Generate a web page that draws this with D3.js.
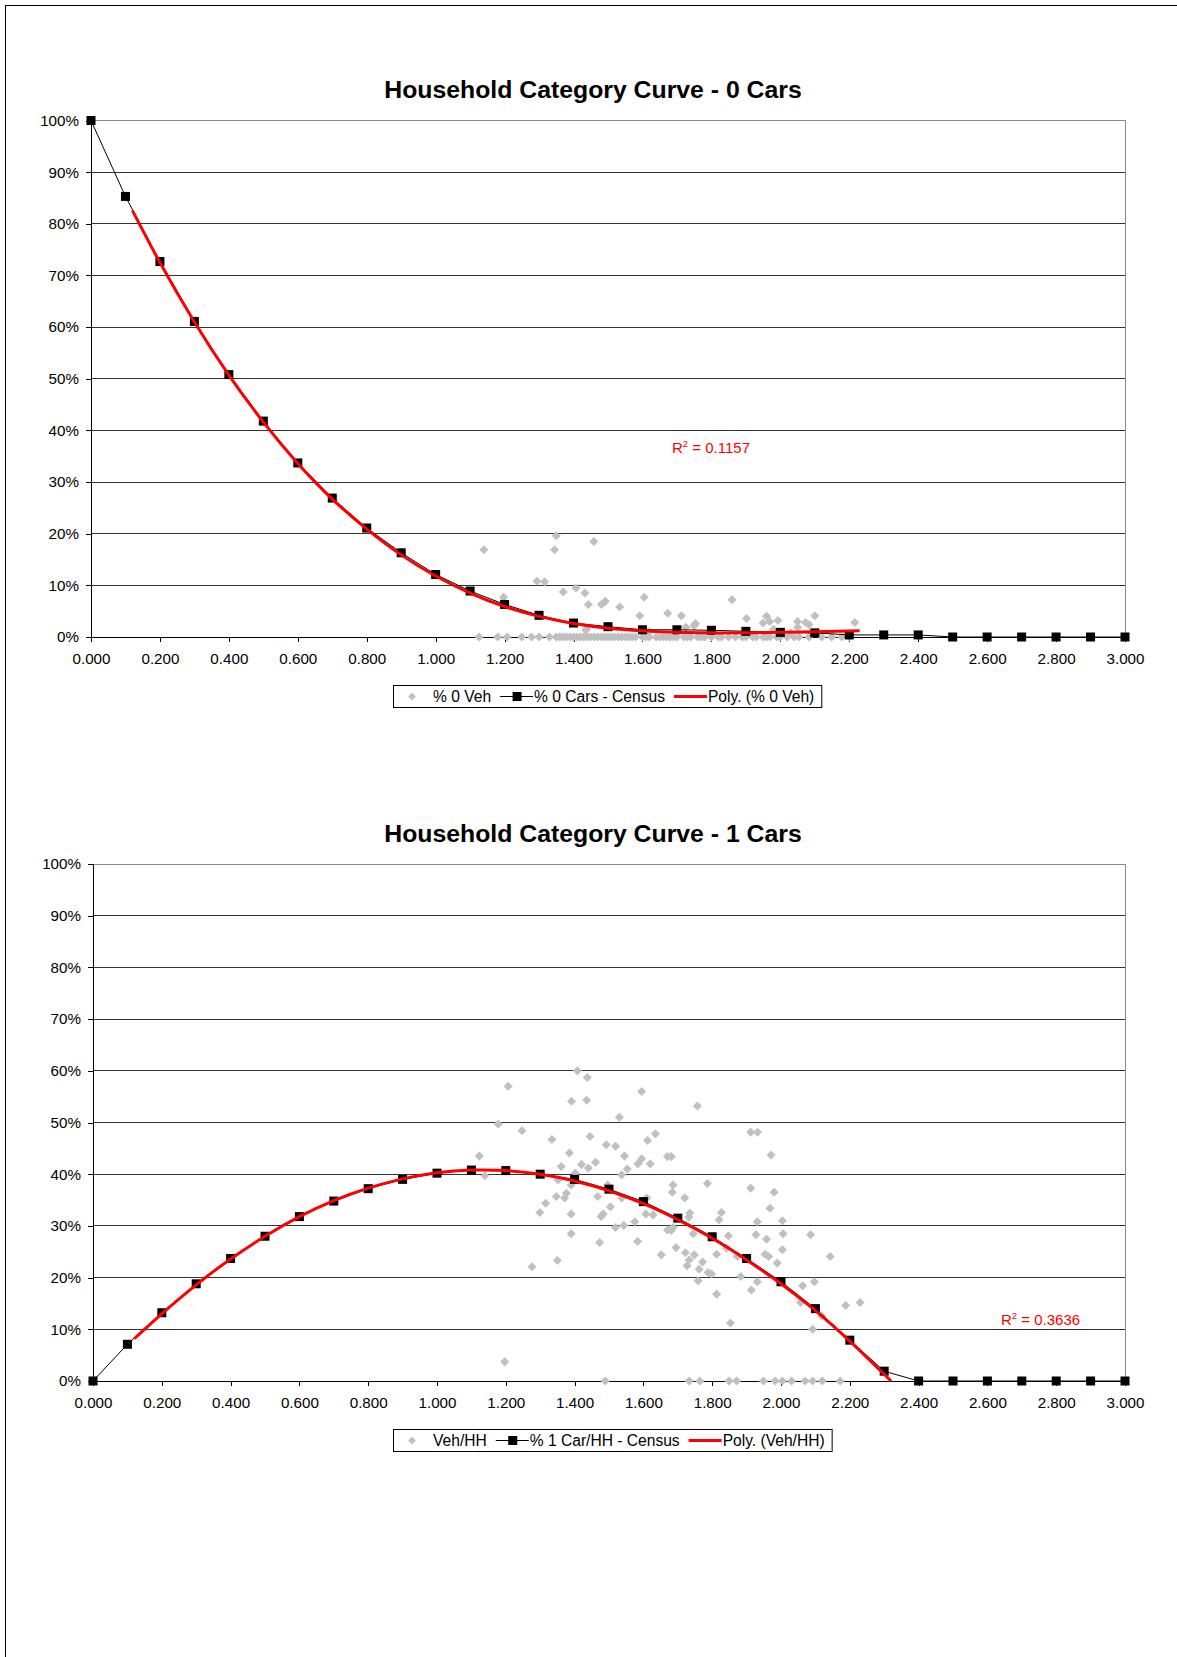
<!DOCTYPE html>
<html lang="en">
<head>
   <meta charset="utf-8">
   <title>Household Category Curves</title>
   <script src="https://cdn.jsdelivr.net/npm/d3@7/dist/d3.min.js"></script>
   <style type="text/css">
      body { margin: 0; background: #fff; }
      svg text { font-family: "Liberation Sans", Arial, Helvetica, sans-serif; }
      .axis path, .axis line { stroke: #000; shape-rendering: crispEdges; }
      .axis text { font-size: 15.2px; fill: #000; }
   </style>
</head>
<body>
<script type="text/javascript">

   var w = 1177;
   var h = 1657;

   // tick values
   var xTicks = [0, 0.2, 0.4, 0.6, 0.8, 1.0, 1.2, 1.4, 1.6, 1.8, 2.0, 2.2, 2.4, 2.6, 2.8, 3.0];
   var yTicks = [0, 10, 20, 30, 40, 50, 60, 70, 80, 90, 100];

   // census curves (veh/HH -> % of households)
   var censusX = [0, 0.1, 0.2, 0.3, 0.4, 0.5, 0.6, 0.7, 0.8, 0.9, 1.0, 1.1, 1.2, 1.3, 1.4, 1.5,
                  1.6, 1.7, 1.8, 1.9, 2.0, 2.1, 2.2, 2.3, 2.4, 2.5, 2.6, 2.7, 2.8, 2.9, 3.0];
   var census0 = [100, 85.3, 72.7, 61.1, 50.8, 41.8, 33.7, 26.9, 21.1, 16.3, 12.1, 8.9, 6.3, 4.2, 2.7, 2.0,
                  1.4, 1.4, 1.3, 1.1, 0.9, 0.8, 0.4, 0.4, 0.4, 0, 0, 0, 0, 0, 0];
   var census1 = [0, 7.1, 13.2, 18.8, 23.7, 28.0, 31.8, 34.8, 37.2, 39.0, 40.2, 40.8, 40.7, 40.0, 39.0, 37.1,
                  34.7, 31.5, 27.9, 23.7, 19.2, 14.0, 7.9, 1.9, 0, 0, 0, 0, 0, 0, 0];

   // polynomial trendlines
   var poly0X = [0.12, 0.2, 0.3, 0.4, 0.5, 0.6, 0.7, 0.8, 0.9, 1.0, 1.1, 1.2, 1.3, 1.4, 1.5, 1.6, 1.7, 1.8, 1.9, 2.0, 2.1, 2.23];
   var poly0Y = [82.6, 72.5, 61.0, 50.7, 41.6, 33.6, 26.7, 20.9, 15.9, 11.8, 8.5, 5.9, 4.0, 2.6, 1.7, 1.2, 0.9, 0.8, 0.8, 0.9, 1.0, 1.2];
   var poly1X = [0.12, 0.2, 0.3, 0.4, 0.5, 0.6, 0.7, 0.8, 0.9, 1.0, 1.1, 1.2, 1.3, 1.4, 1.5, 1.6, 1.7, 1.8, 1.9, 2.0, 2.1, 2.2, 2.32];
   var poly1Y = [8.2, 13.0, 18.6, 23.6, 28.0, 31.8, 34.9, 37.3, 39.1, 40.3, 40.8, 40.7, 40.0, 38.7, 36.8, 34.3, 31.2, 27.6, 23.4, 18.8, 13.6, 7.7, 0];

   // % 0 Veh survey points
   var veh0X = [1.14, 1.35, 1.345, 1.459, 1.294, 1.316, 1.197, 1.37, 1.407, 1.433, 1.443, 1.481, 1.492, 1.534,
                1.605, 1.592, 1.673, 1.713, 1.726, 1.754, 1.75, 1.86, 1.902, 1.95, 1.96, 1.969, 1.993, 2.05,
                2.05, 2.073, 2.083, 2.1, 2.216, 1.435, 1.438, 1.62, 1.98, 2.03,
                1.126, 1.18, 1.207, 1.25, 1.278, 1.3, 1.33, 1.35, 1.36, 1.37, 1.38, 1.39, 1.40, 1.41, 1.42,
                1.43, 1.44, 1.45, 1.46, 1.47, 1.48, 1.49, 1.50, 1.51, 1.52, 1.53, 1.54, 1.55, 1.56, 1.57,
                1.58, 1.60, 1.61, 1.62, 1.64, 1.65, 1.66, 1.67, 1.68, 1.69, 1.70, 1.72, 1.73, 1.74, 1.76,
                1.77, 1.78, 1.80, 1.82, 1.83, 1.85, 1.87, 1.89, 1.90, 1.92, 1.93, 1.95, 1.96, 1.97, 1.99,
                2.00, 2.02, 2.04, 2.054, 2.083, 2.12, 2.149, 2.178, 2.20];
   var veh0Y = [16.9, 19.6, 16.9, 18.5, 10.8, 10.7, 7.7, 8.7, 9.5, 8.5, 6.3, 6.3, 6.9, 5.8,
                7.7, 4.1, 4.6, 4.1, 1.9, 2.6, 2.2, 7.2, 3.6, 2.7, 4.0, 3.0, 3.2, 3.0,
                1.9, 2.8, 2.4, 4.1, 2.8, 1.4, 1.5, 1.0, 1.5, 0.8,
                0, 0, 0, 0, 0, 0, 0, 0, 0, 0, 0, 0, 0, 0, 0,
                0, 0, 0, 0, 0, 0, 0, 0, 0, 0, 0, 0, 0, 0, 0,
                0, 0, 0, 0, 0, 0, 0, 0, 0, 0, 0, 0, 0, 0, 0,
                0, 0, 0, 0, 0, 0, 0, 0, 0, 0, 0, 0, 0, 0, 0,
                0, 0, 0, 0, 0, 0, 0, 0, 0];

   // Veh/HH survey points (1 car)
   var veh1X = [1.207, 1.178, 1.123, 1.139, 1.247, 1.197, 1.408, 1.437, 1.391, 1.435, 1.595, 1.53, 1.445, 1.334,
                1.385, 1.361, 1.42, 1.44, 1.461, 1.492, 1.519, 1.545, 1.553, 1.537, 1.584, 1.595, 1.62, 1.612,
                1.635, 1.67, 1.402, 1.39, 1.352, 1.376, 1.347, 1.371, 1.316, 1.299, 1.39, 1.39, 1.35, 1.276,
                1.467, 1.496, 1.504, 1.537, 1.477, 1.483, 1.519, 1.543, 1.575, 1.473, 1.583, 1.607, 1.628, 1.61,
                1.652, 1.67, 1.489,
                1.757, 1.681, 1.912, 1.932, 1.971, 1.686, 1.684, 1.72, 1.786, 1.912, 1.98, 1.968, 1.735, 1.732,
                1.827, 1.82, 1.931, 2.004, 1.686, 1.681, 1.745, 1.847, 1.927, 1.958, 2.006, 2.086, 1.695, 1.722,
                1.748, 1.813, 1.842, 1.873, 1.954, 1.964, 2.004, 1.733, 1.772, 1.727, 1.762, 1.788, 1.798, 1.759,
                1.931, 1.883, 1.989, 2.143, 1.914, 1.813, 2.063, 2.097, 2.057, 2.118, 2.092, 2.188, 2.23, 1.853,
                1.733, 1.764, 1.849, 1.871, 1.949, 1.983, 2.004, 2.031, 2.07, 2.092, 2.12, 2.172];
   var veh1Y = [57.0, 49.7, 43.5, 39.7, 48.4, 3.7, 60.0, 58.7, 54.1, 54.3, 56.0, 51.0, 47.3, 46.7,
                44.1, 41.5, 41.9, 41.2, 42.3, 45.7, 45.4, 43.5, 41.0, 39.9, 42.0, 43.0, 42.0, 46.5,
                47.8, 43.4, 40.2, 37.9, 38.9, 36.3, 35.7, 35.4, 34.4, 32.6, 32.3, 28.5, 23.3, 22.1,
                35.7, 37.9, 33.7, 35.4, 31.8, 32.3, 29.7, 30.1, 30.8, 26.8, 27.0, 32.3, 32.1, 35.4,
                24.4, 29.2, 0,
                53.2, 43.4, 48.1, 48.1, 43.7, 37.9, 36.5, 35.4, 38.2, 37.3, 36.5, 33.4, 32.5, 31.7,
                32.6, 31.2, 30.8, 31.0, 29.7, 29.1, 28.5, 28.1, 28.3, 27.4, 28.5, 28.3, 25.8, 24.8,
                24.4, 24.5, 25.7, 24.1, 24.5, 24.1, 25.4, 23.4, 23.0, 22.3, 21.6, 21.0, 20.7, 19.4,
                19.2, 20.2, 22.8, 24.1, 17.6, 16.8, 18.4, 19.2, 15.2, 12.6, 10.0, 14.6, 15.2, 11.2,
                0, 0, 0, 0, 0, 0, 0, 0, 0, 0, 0, 0];

   var svg = d3.select("body")
               .append("svg")
               .attr("width", w)
               .attr("height", h);

   // page frame
   svg.append("rect")
      .attr("x", 5.5)
      .attr("y", 5.5)
      .attr("width", w)
      .attr("height", h)
      .attr("fill", "none")
      .attr("stroke", "#000");

   function zip(xs, ys) {
      return xs.map(function(d, i) { return {x: d, y: ys[i]}; });
   }

   function drawChart(c) {
      var xScale = d3.scaleLinear().domain([0, 3]).range([c.left, c.right]);
      var yScale = d3.scaleLinear().domain([0, 100]).range([c.bottom, c.top]);
      var g = svg.append("g");

      // title
      g.append("text")
         .attr("x", 593)
         .attr("y", c.titleY)
         .attr("text-anchor", "middle")
         .attr("font-size", "24.8px")
         .attr("font-weight", "bold")
         .text(c.title);

      // plot border (top / right in grey)
      g.append("rect")
         .attr("x", c.left)
         .attr("y", yScale(100))
         .attr("width", c.right - c.left)
         .attr("height", c.bottom - yScale(100))
         .attr("fill", "none")
         .attr("stroke", "#888")
         .attr("shape-rendering", "crispEdges");

      // gridlines
      g.selectAll("line.grid")
         .data(yTicks.filter(function(d) { return d > 0 && d < 100; }))
         .enter()
         .append("line")
         .attr("class", "grid")
         .attr("x1", c.left)
         .attr("x2", c.right)
         .attr("y1", function(d) { return yScale(d); })
         .attr("y2", function(d) { return yScale(d); })
         .attr("stroke", "#333")
         .attr("shape-rendering", "crispEdges");

      // axes
      g.append("g")
         .attr("class", "axis")
         .attr("transform", "translate(0," + c.bottom + ")")
         .call(d3.axisBottom(xScale).tickValues(xTicks).tickSize(5).tickPadding(11)
               .tickFormat(d3.format(".3f")));

      g.append("g")
         .attr("class", "axis")
         .attr("transform", "translate(" + c.left + ",0)")
         .call(d3.axisLeft(yScale).tickValues(yTicks).tickSize(5).tickPadding(7)
               .tickFormat(function(d) { return d + "%"; }));

      g.selectAll(".axis .domain").attr("stroke", "#000");

      // survey scatter
      g.selectAll("rect.pt")
         .data(zip(c.sx, c.sy))
         .enter()
         .append("rect")
         .attr("class", "pt")
         .attr("x", -3.2)
         .attr("y", -3.2)
         .attr("width", 6.4)
         .attr("height", 6.4)
         .attr("transform", function(d) {
            return "translate(" + xScale(d.x) + "," + yScale(d.y) + ") rotate(45)";
         })
         .attr("fill", "#c0c0c0");

      // census line + squares
      var census = zip(censusX, c.census);
      g.append("path")
         .datum(census)
         .attr("fill", "none")
         .attr("stroke", "#000")
         .attr("stroke-width", 1)
         .attr("d", d3.line()
            .x(function(d) { return xScale(d.x); })
            .y(function(d) { return yScale(d.y); }));

      g.selectAll("rect.sq")
         .data(census)
         .enter()
         .append("rect")
         .attr("class", "sq")
         .attr("x", function(d) { return xScale(d.x) - 4.5; })
         .attr("y", function(d) { return yScale(d.y) - 4.5; })
         .attr("width", 9)
         .attr("height", 9)
         .attr("fill", "#000");

      // trendline
      g.append("path")
         .datum(zip(c.px, c.py))
         .attr("fill", "none")
         .attr("stroke", "#ff0000")
         .attr("stroke-width", 3)
         .attr("d", d3.line()
            .curve(d3.curveNatural)
            .x(function(d) { return xScale(d.x); })
            .y(function(d) { return yScale(d.y); }));

      // R squared label
      var r2 = g.append("text")
         .attr("x", c.r2x)
         .attr("y", c.r2y)
         .attr("fill", "#ff0000")
         .attr("font-size", "15px");
      r2.append("tspan").text("R");
      r2.append("tspan").attr("font-size", "9.5px").attr("dy", -6).text("2");
      r2.append("tspan").attr("dy", 6).text(" = " + c.r2);

      // legend
      var lg = g.append("g");
      var bx = 393, by = c.legendY, bh = 22;
      var box = lg.append("rect")
         .attr("x", bx + 0.5)
         .attr("y", by + 0.5)
         .attr("height", bh)
         .attr("fill", "#fff")
         .attr("stroke", "#000");
      var cx = bx + 6;
      var cy = by + bh / 2 + 0.5;
      c.legend.forEach(function(it, i) {
         if (i == 0) {
            lg.append("rect")
               .attr("x", -2.8).attr("y", -2.8).attr("width", 5.6).attr("height", 5.6)
               .attr("transform", "translate(" + (cx + 13) + "," + cy + ") rotate(45)")
               .attr("fill", "#c0c0c0");
         } else if (i == 1) {
            lg.append("line").attr("x1", cx).attr("x2", cx + 33).attr("y1", cy).attr("y2", cy)
               .attr("stroke", "#000");
            lg.append("rect").attr("x", cx + 12.5).attr("y", cy - 4.5).attr("width", 9).attr("height", 9)
               .attr("fill", "#000");
         } else {
            lg.append("line").attr("x1", cx).attr("x2", cx + 33).attr("y1", cy).attr("y2", cy)
               .attr("stroke", "#ff0000").attr("stroke-width", 3);
         }
         var t = lg.append("text")
            .attr("x", cx + 34)
            .attr("y", cy + 5.5)
            .attr("font-size", "15.6px")
            .text(it);
         cx = cx + 34 + t.node().getComputedTextLength() + 9;
      });
      box.attr("width", cx - 9 + 7 - bx);
   }

   drawChart({
      title: "Household Category Curve - 0 Cars",
      titleY: 98,
      left: 91, right: 1125, top: 120.5, bottom: 637,
      census: census0, sx: veh0X, sy: veh0Y, px: poly0X, py: poly0Y,
      r2: "0.1157", r2x: 672, r2y: 453,
      legendY: 685,
      legend: ["% 0 Veh", "% 0 Cars - Census", "Poly. (% 0 Veh)"]
   });

   drawChart({
      title: "Household Category Curve - 1 Cars",
      titleY: 842,
      left: 93, right: 1125, top: 864, bottom: 1381,
      census: census1, sx: veh1X, sy: veh1Y, px: poly1X, py: poly1Y,
      r2: "0.3636", r2x: 1001, r2y: 1325,
      legendY: 1429,
      legend: ["Veh/HH", "% 1 Car/HH - Census", "Poly. (Veh/HH)"]
   });

</script>
</body>
</html>
